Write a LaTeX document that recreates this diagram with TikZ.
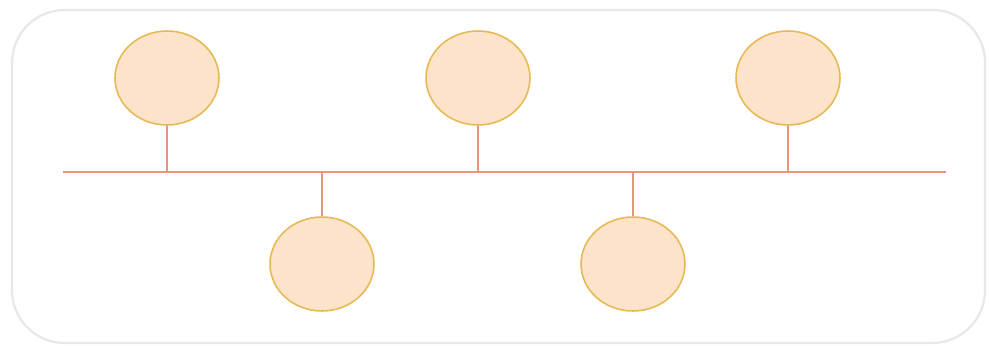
\documentclass[tikz,border=0pt]{standalone}
\usepackage{tikz}
\usetikzlibrary{shapes.geometric, calc}
\definecolor{peach}{HTML}{FDE3C9}
\definecolor{gold}{HTML}{E6B955}
\definecolor{salmon}{HTML}{E9957C}

\begin{document}
\begin{tikzpicture}[x=0.02cm, y=-0.02cm,
    event/.style={ellipse, draw=gold, fill=peach, line width=0.9pt,
      minimum width=2.08cm, minimum height=1.88cm, inner sep=0pt},
    stem/.style={salmon, line width=1pt}]

  % --- frame -----------------------------------------------------------------
  \useasboundingbox (0,0) rectangle (989,345);
  \draw[gray!18, line width=1.3pt, rounded corners=30] (12,10) rectangle (985,343);

  % --- axis ------------------------------------------------------------------
  \coordinate (start) at (63,172);
  \coordinate (end) at (946,172);
  \draw[stem] (start) -- (end);

  % --- events above the axis -------------------------------------------------
  \node[event] (e1) at (167,78) {};
  \node[event] (e3) at (478,78) {};
  \node[event] (e5) at (788,78) {};

  % --- events below the axis -------------------------------------------------
  \node[event] (e2) at (322,264) {};
  \node[event] (e4) at (633,264) {};

  % --- stems -----------------------------------------------------------------
  \foreach \e in {e1,e3,e5}
    \draw[stem] (\e.south) -- (\e.south |- start);
  \foreach \e in {e2,e4}
    \draw[stem] (\e.north) -- (\e.north |- start);

\end{tikzpicture}
\end{document}
